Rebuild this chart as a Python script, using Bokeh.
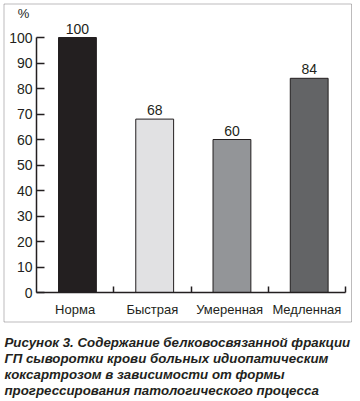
from bokeh.plotting import figure
from bokeh.models import Range1d, LinearAxis, FixedTicker, Label, BoxAnnotation, ColumnDataSource
from bokeh.transform import dodge
from bokeh.core.properties import value
from bokeh.embed import file_html
from bokeh.resources import INLINE

categories = ["Норма", "Быстрая", "Умеренная", "Медленная"]
values = [100, 68, 60, 84]
bar_colors = ["#231f20", "#e1e1e3", "#939598", "#636466"]
y_ticks = [0, 10, 20, 30, 40, 50, 60, 70, 80, 90, 100]
unit_label = "%"
caption_lines = [
    "Рисунок 3. Содержание белковосвязанной фракции",
    "ГП сыворотки крови больных идиопатическим",
    "коксартрозом в зависимости от формы",
    "прогрессирования патологического процесса",
]

INK = "#231f20"
FONT = "Liberation Sans"

W, H = 352, 398
X0, Y0 = 36, 292          # canvas pixel of the data origin
PX_X, PX_Y = 77.25, 2.55  # pixels per data unit

n = len(categories)
centers = [i + 0.5 for i in range(n)]
bounds = [float(i + 1) for i in range(n)]


def dx(px):
    return (px - X0) / PX_X


def dy(py):
    return (Y0 - py) / PX_Y


src = ColumnDataSource(dict(x=centers, cat=categories, val=values, color=bar_colors,
                            lab=[str(v) for v in values]))

p = figure(width=W, height=H, output_backend="svg", toolbar_location=None,
           x_range=Range1d(dx(0), dx(W)), y_range=Range1d(dy(H), dy(0)),
           x_axis_type=None, y_axis_type=None,
           min_border_left=0, min_border_right=0, min_border_top=0, min_border_bottom=0)
p.outline_line_color = None
p.xgrid.visible = False
p.ygrid.visible = False
p.background_fill_color = "white"
p.border_fill_color = "white"

p.vbar(x=dodge("x", 0.03), top="val", width=0.49, bottom=0, source=src,
       fill_color="color", line_color=INK, line_width=1)
p.text(x=dodge("x", 0.03), y="val", text="lab", source=src, text_align="center",
       text_baseline="bottom", y_offset=-4, text_font=value(FONT),
       text_font_size="14px", text_color=INK)

yaxis = LinearAxis(ticker=FixedTicker(ticks=y_ticks), bounds=(0, 100), fixed_location=0)
yaxis.major_tick_in = 8
yaxis.major_tick_out = 0
yaxis.minor_tick_line_color = None
yaxis.axis_line_color = INK
yaxis.axis_line_width = 1.5
yaxis.major_tick_line_color = INK
yaxis.major_tick_line_width = 1.5
yaxis.major_label_standoff = 4
yaxis.major_label_text_font = FONT
yaxis.major_label_text_font_size = "14px"
yaxis.major_label_text_color = INK
p.add_layout(yaxis, "left")

xaxis = LinearAxis(ticker=FixedTicker(ticks=centers, minor_ticks=bounds),
                   major_label_overrides={c: name for c, name in zip(centers, categories)},
                   bounds=(0, n), fixed_location=0)
xaxis.major_tick_in = 0
xaxis.major_tick_out = 0
xaxis.major_tick_line_color = None
xaxis.minor_tick_in = 6
xaxis.minor_tick_out = 0
xaxis.minor_tick_line_color = INK
xaxis.minor_tick_line_width = 1.5
xaxis.axis_line_color = INK
xaxis.axis_line_width = 1.5
xaxis.major_label_standoff = 9
xaxis.major_label_text_font = FONT
xaxis.major_label_text_font_size = "13px"
xaxis.major_label_text_color = INK
p.add_layout(xaxis, "below")

p.add_layout(Label(x=dx(23), y=dy(13), text=unit_label, text_align="center",
                   text_baseline="middle", text_font=FONT, text_font_size="13px",
                   text_color=INK))

p.add_layout(BoxAnnotation(left=dx(3.5), right=dx(351), top=dy(3.5), bottom=dy(321.5),
                           fill_color=None, line_color=INK, line_width=1))

for i, line in enumerate(caption_lines):
    p.add_layout(Label(x=dx(4), y=dy(342 + i * 16), text=line, text_align="left",
                       text_baseline="middle", text_font=FONT, text_font_size="13.3px",
                       text_font_style="bold italic", text_color=INK))

open("out.html", "w").write(file_html(p, INLINE))
